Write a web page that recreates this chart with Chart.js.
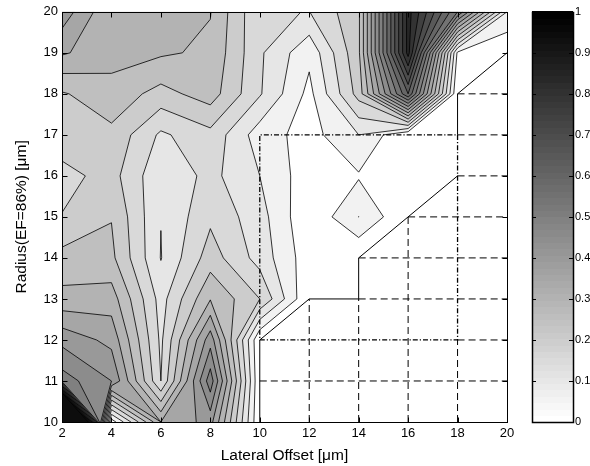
<!DOCTYPE html>
<html><head><meta charset="utf-8">
<script src="https://cdn.jsdelivr.net/npm/chart.js@4/dist/chart.umd.min.js"></script>
<style>html,body{margin:0;padding:0;background:#fff}</style>
</head><body>
<canvas id="c" width="590" height="466"></canvas>
<script>
// ---------------- data ----------------
const xValues = [2, 4, 6, 8, 10, 12, 14, 16, 18, 20];
const yValues = [10, 11, 12, 13, 14, 15, 16, 17, 18, 19, 20];
// one row per radius, columns follow xValues
const z10 = [2.00, 0.02, 0.35, 0.42, 0.00, 0.00, 0.00, 0.00, 0.00, 0.00];
const z11 = [0.525, 0.45, 0.15, 0.53, 0.00, 0.00, 0.00, 0.00, 0.00, 0.00];
const z12 = [0.435, 0.385, 0.14, 0.43, 0.00, 0.00, 0.00, 0.00, 0.00, 0.00];
const z13 = [0.316, 0.325, 0.13, 0.297, 0.20, 0.00, 0.00, 0.00, 0.00, 0.00];
const z14 = [0.267, 0.262, 0.098, 0.225, 0.13, 0.02, 0.00, 0.00, 0.00, 0.00];
const z15 = [0.202, 0.248, 0.101, 0.19, 0.12, 0.007, 0.1005, 0.00, 0.00, 0.00];
const z16 = [0.183, 0.219, 0.11, 0.165, 0.10, 0.02, 0.045, 0.01, 0.00, 0.00];
const z17 = [0.23, 0.238, 0.141, 0.185, 0.074, 0.03, 0.10, 0.00, 0.00, 0.00];
const z18 = [0.245, 0.28, 0.232, 0.274, 0.155, 0.035, 0.22, 0.65, 0.00, 0.00];
const z19 = [0.356, 0.32, 0.307, 0.291, 0.158, 0.063, 0.24, 0.87, 0.04, 0.00];
const z20 = [0.43, 0.305, 0.32, 0.302, 0.155, 0.149, 0.24, 0.87, 0.55, 0.10];
const zRows = [z10, z11, z12, z13, z14, z15, z16, z17, z18, z19, z20];

const levels = [0.05,0.10,0.15,0.20,0.25,0.30,0.35,0.40,0.45,0.50,0.55,0.60,0.65,0.70,0.75,0.80,0.85,0.90,0.95];
const xTicks = [2, 4, 6, 8, 10, 12, 14, 16, 18, 20];
const yTicks = [10, 11, 12, 13, 14, 15, 16, 17, 18, 19, 20];
const cbTicks = [0, 0.1, 0.2, 0.3, 0.4, 0.5, 0.6, 0.7, 0.8, 0.9, 1];
const cbLabels = ['0','0.1','0.2','0.3','0.4','0.5','0.6','0.7','0.8','0.9','1'];

// excluded (blank) region, in data units
const maskX = [10, 10, 12, 14, 14, 18, 18, 20, 20];
const maskY = [10, 12, 13, 13, 14, 16, 18, 19, 10];
// dash-dot rectangle corners
const boxX = [10, 18, 18, 10, 10];
const boxY = [12, 12, 17, 17, 12];

// ---------------- helpers ----------------
const FONT = '"Liberation Sans", Arial, Helvetica, sans-serif';
function grayOf(v) { const g = Math.max(0, Math.min(255, Math.round(255 * (1 - v)))); return `rgb(${g},${g},${g})`; }

function onSeg(px, py, ax, ay, bx, by) {
  const cross = (bx - ax) * (py - ay) - (by - ay) * (px - ax);
  if (Math.abs(cross) > 1e-9) return false;
  return px >= Math.min(ax, bx) - 1e-9 && px <= Math.max(ax, bx) + 1e-9 && py >= Math.min(ay, by) - 1e-9 && py <= Math.max(ay, by) + 1e-9;
}
function onPolyBoundary(px, py, X, Y) {
  for (let i = 0; i < X.length; i++) {
    const j = (i + 1) % X.length;
    if (onSeg(px, py, X[i], Y[i], X[j], Y[j])) return true;
  }
  return false;
}
function inPoly(px, py, X, Y) {
  let c = false;
  for (let i = 0, j = X.length - 1; i < X.length; j = i++) {
    if (((Y[i] > py) !== (Y[j] > py)) && (px < (X[j] - X[i]) * (py - Y[i]) / (Y[j] - Y[i]) + X[i])) c = !c;
  }
  return c;
}
const boxPX = boxX.slice(0, 4), boxPY = boxY.slice(0, 4);

// dashed grid edges lying inside the blank region
function dashedRuns() {
  const runs = [];
  for (const y of yValues) {
    let cur = null;
    for (let i = 0; i < xValues.length - 1; i++) {
      const x0 = xValues[i], x1 = xValues[i + 1], mx = (x0 + x1) / 2;
      const ok = inPoly(mx, y, maskX, maskY) && !onPolyBoundary(mx, y, maskX, maskY) && !onPolyBoundary(mx, y, boxPX, boxPY);
      if (ok) { if (cur) cur[1] = x1; else cur = [x0, x1]; }
      else if (cur) { runs.push([{x: cur[0], y}, {x: cur[1], y}]); cur = null; }
    }
    if (cur) runs.push([{x: cur[0], y}, {x: cur[1], y}]);
  }
  for (const x of xValues) {
    let cur = null;
    for (let j = 0; j < yValues.length - 1; j++) {
      const y0 = yValues[j], y1 = yValues[j + 1], my = (y0 + y1) / 2;
      const ok = inPoly(x, my, maskX, maskY) && !onPolyBoundary(x, my, maskX, maskY) && !onPolyBoundary(x, my, boxPX, boxPY);
      if (ok) { if (cur) cur[1] = y1; else cur = [y0, y1]; }
      else if (cur) { runs.push([{x, y: cur[0]}, {x, y: cur[1]}]); cur = null; }
    }
    if (cur) runs.push([{x, y: cur[0]}, {x, y: cur[1]}]);
  }
  return runs;
}

// boundary of blank region drawn solid (except where the dash-dot box lies on it)
function boundaryData() {
  const pts = [];
  const n = maskX.length;
  for (let i = 0; i < n; i++) {
    const j = (i + 1) % n;
    const ax = maskX[i], ay = maskY[i], bx = maskX[j], by = maskY[j];
    if ((ax === 20 && bx === 20) || (ay === 10 && by === 10)) continue;
    const segs = [];
    if (ax === bx && ax === 18) {
      const lo = Math.min(ay, by), hi = Math.max(ay, by);
      if (hi > 17) segs.push([{x: 18, y: Math.max(lo, 17)}, {x: 18, y: hi}]);
    } else segs.push([{x: ax, y: ay}, {x: bx, y: by}]);
    for (const s of segs) {
      const last = pts[pts.length - 1];
      if (last && last.x === s[0].x && last.y === s[0].y) pts.push(s[1]);
      else { if (pts.length) pts.push({x: null, y: null}); pts.push(s[0], s[1]); }
    }
  }
  return pts;
}

// ---------------- contour plugin ----------------
const contourPlugin = {
  id: 'contour',
  beforeDatasetsDraw(chart) {
    const {ctx, chartArea: a, scales: {x, y}} = chart;
    const nx = xValues.length, ny = yValues.length;
    const P = (i, j) => [x.getPixelForValue(xValues[i]), y.getPixelForValue(yValues[j])];
    ctx.save();
    ctx.beginPath(); ctx.rect(a.left, a.top, a.right - a.left, a.bottom - a.top); ctx.clip();
    ctx.fillStyle = '#fff'; ctx.fillRect(a.left, a.top, a.right - a.left, a.bottom - a.top);
    const segsAll = [];
    for (const L of levels) {
      ctx.beginPath();
      for (let j = 0; j < ny - 1; j++) {
        for (let i = 0; i < nx - 1; i++) {
          const cs = [[i, j], [i + 1, j], [i + 1, j + 1], [i, j + 1]];
          const vs = cs.map(([ci, cj]) => zRows[cj][ci]);
          const ps = cs.map(([ci, cj]) => P(ci, cj));
          const poly = [];
          const cross = [null, null, null, null];
          for (let c = 0; c < 4; c++) {
            const d = (c + 1) % 4;
            const ia = vs[c] >= L, ib = vs[d] >= L;
            if (ia) poly.push(ps[c]);
            if (ia !== ib) {
              const t = (L - vs[c]) / (vs[d] - vs[c]);
              const pt = [ps[c][0] + t * (ps[d][0] - ps[c][0]), ps[c][1] + t * (ps[d][1] - ps[c][1])];
              poly.push(pt); cross[c] = pt;
            }
          }
          if (poly.length >= 3) {
            ctx.moveTo(poly[0][0], poly[0][1]);
            for (let k = 1; k < poly.length; k++) ctx.lineTo(poly[k][0], poly[k][1]);
            ctx.closePath();
          }
          const above = vs.map(v => v >= L);
          const nAbove = above.filter(Boolean).length;
          if (nAbove === 0 || nAbove === 4) continue;
          if (nAbove === 2 && above[0] === above[2]) {
            for (let c = 0; c < 4; c++) if (!above[c]) segsAll.push([cross[(c + 3) % 4], cross[c]]);
          } else {
            const pts = cross.filter(Boolean);
            if (pts.length === 2) segsAll.push(pts);
          }
        }
      }
      ctx.fillStyle = grayOf(L);
      ctx.fill('nonzero');
    }
    ctx.beginPath();
    for (const [p, q] of segsAll) { ctx.moveTo(p[0], p[1]); ctx.lineTo(q[0], q[1]); }
    ctx.strokeStyle = '#000'; ctx.lineWidth = 0.8; ctx.lineJoin = 'round'; ctx.stroke();
    // blank region
    ctx.beginPath();
    maskX.forEach((mx, k) => {
      const px = x.getPixelForValue(mx), py = y.getPixelForValue(maskY[k]);
      k ? ctx.lineTo(px, py) : ctx.moveTo(px, py);
    });
    ctx.closePath(); ctx.fillStyle = '#fff'; ctx.fill();
    ctx.restore();
  },
  afterDraw(chart) {
    const {ctx, chartArea: a, scales: {x, y}} = chart;
    ctx.save();
    ctx.strokeStyle = '#000'; ctx.lineWidth = 1;
    const L = Math.round(a.left) + 0.5, R = Math.round(a.right) + 0.5, T = Math.round(a.top) + 0.5, B = Math.round(a.bottom) + 0.5;
    ctx.strokeRect(L, T, R - L, B - T);
    ctx.beginPath();
    for (const v of xTicks) {
      const px = Math.round(x.getPixelForValue(v)) + 0.5;
      ctx.moveTo(px, B); ctx.lineTo(px, B - 5); ctx.moveTo(px, T); ctx.lineTo(px, T + 5);
    }
    for (const v of yTicks) {
      const py = Math.round(y.getPixelForValue(v)) + 0.5;
      ctx.moveTo(L, py); ctx.lineTo(L + 5, py); ctx.moveTo(R, py); ctx.lineTo(R - 5, py);
    }
    ctx.stroke();
    // colour bar (shares the vertical pixel extent of the plot)
    const cbL = 532, cbR = 573;
    const vy = v => y.getPixelForValue(yTicks[0] + v * (yTicks[yTicks.length - 1] - yTicks[0]));
    const n = 64;
    for (let i = 0; i < n; i++) {
      const y0 = vy(i / n), y1 = vy((i + 1) / n);
      const g = Math.round(255 * (1 - i / (n - 1)));
      ctx.fillStyle = `rgb(${g},${g},${g})`;
      ctx.fillRect(cbL, Math.floor(y1), cbR - cbL, Math.ceil(y0) - Math.floor(y1));
    }
    ctx.lineWidth = 1.5;
    ctx.strokeRect(cbL + 0.5, Math.round(vy(1)) + 0.5, cbR - cbL, Math.round(vy(0)) - Math.round(vy(1)));
    ctx.lineWidth = 1;
    ctx.beginPath();
    cbTicks.forEach(v => {
      const py = Math.round(vy(v)) + 0.5;
      ctx.moveTo(cbL, py); ctx.lineTo(cbL + 4, py);
      ctx.moveTo(cbR, py); ctx.lineTo(cbR - 4, py);
    });
    ctx.stroke();
    ctx.fillStyle = '#000'; ctx.font = `11px ${FONT}`; ctx.textAlign = 'left'; ctx.textBaseline = 'middle';
    cbTicks.forEach((v, k) => ctx.fillText(cbLabels[k], cbR + 2, vy(v)));
    ctx.restore();
  }
};

// ---------------- datasets ----------------
const datasets = [];
datasets.push({
  data: boxX.map((bx, k) => ({x: bx, y: boxY[k]})),
  borderColor: '#000', borderWidth: 1.3, borderDash: [5, 2, 1.2, 2], pointRadius: 0, fill: false, tension: 0
});
datasets.push({
  data: boundaryData(),
  borderColor: '#000', borderWidth: 1, pointRadius: 0, fill: false, tension: 0, spanGaps: false
});
for (const run of dashedRuns()) {
  datasets.push({ data: run, borderColor: '#000', borderWidth: 1, borderDash: [7, 4], pointRadius: 0, fill: false, tension: 0 });
}

new Chart(document.getElementById('c'), {
  type: 'line',
  data: { datasets },
  plugins: [contourPlugin],
  options: {
    responsive: false, animation: false, devicePixelRatio: 1,
    layout: { padding: { top: 10, right: 83, left: 0, bottom: 0 } },
    plugins: { legend: { display: false }, tooltip: { enabled: false } },
    scales: {
      x: {
        type: 'linear', min: 2, max: 20,
        afterBuildTicks: s => { s.ticks = xTicks.map(v => ({value: v})); },
        ticks: { font: { family: FONT, size: 13 }, color: '#000', padding: 4, maxRotation: 0, autoSkip: false },
        grid: { display: false, drawTicks: false }, border: { display: false },
        title: { display: true, text: 'Lateral Offset [μm]', font: { family: FONT, size: 15.5 }, color: '#000', padding: { top: 0, bottom: 1 } },
        afterFit: s => { s.height = 44; }
      },
      y: {
        type: 'linear', min: 10, max: 20,
        afterBuildTicks: s => { s.ticks = yTicks.map(v => ({value: v})); },
        ticks: { font: { family: FONT, size: 13 }, color: '#000', padding: 4, autoSkip: false },
        grid: { display: false, drawTicks: false }, border: { display: false },
        title: { display: true, text: 'Radius(EF=86%) [μm]', font: { family: FONT, size: 15.5 }, color: '#000', padding: { top: 12, bottom: 0 } },
        afterFit: s => { s.width = 62; }
      }
    }
  }
});
</script>
</body></html>
